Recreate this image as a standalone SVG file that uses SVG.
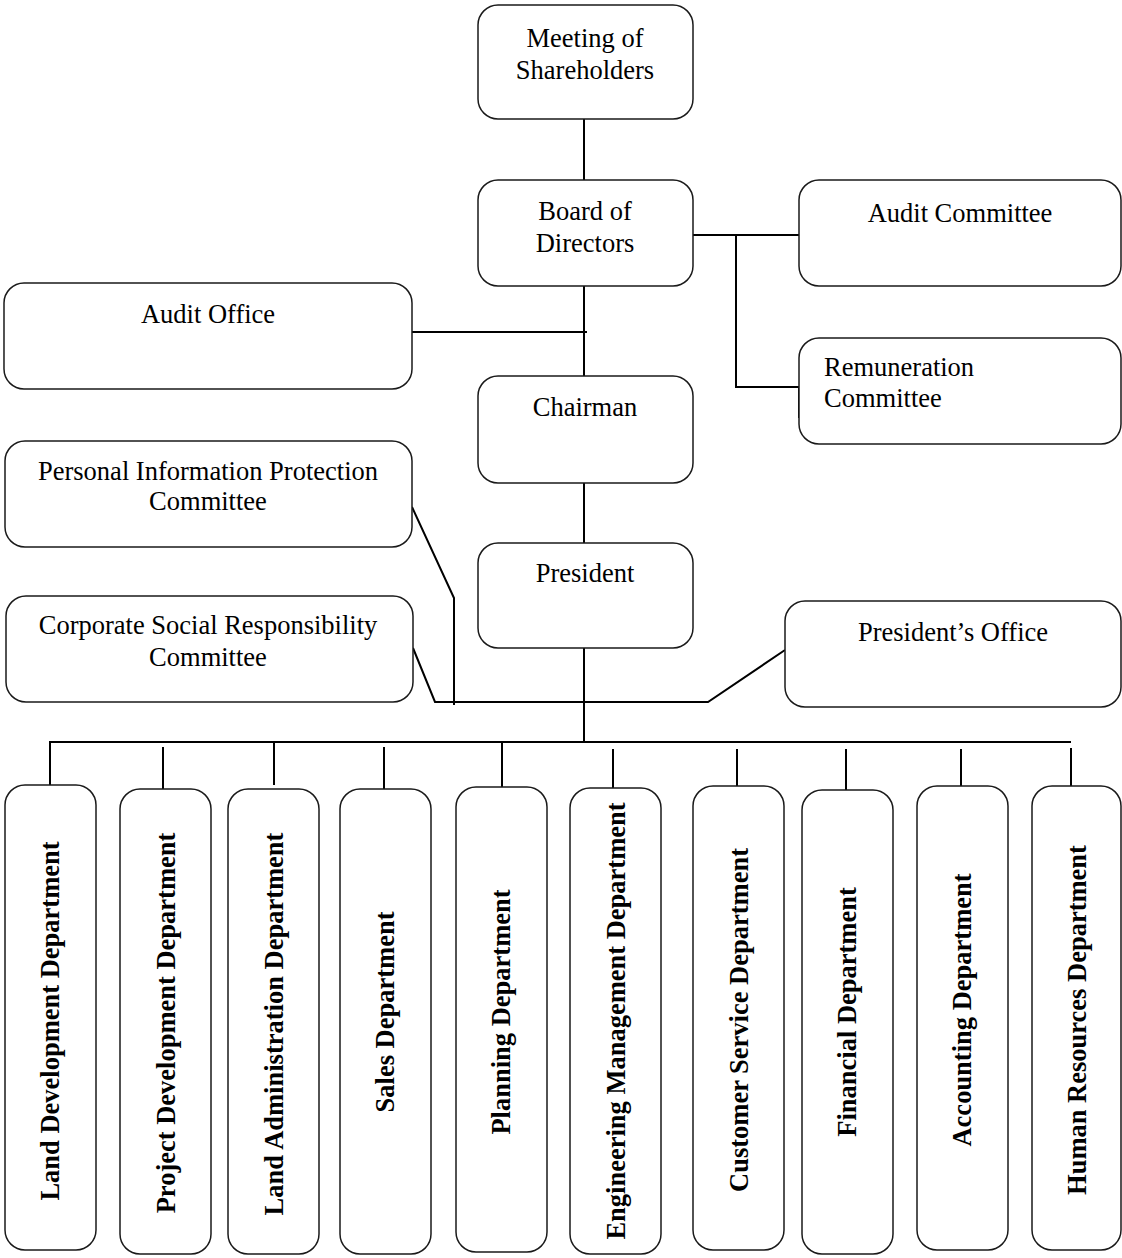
<svg xmlns="http://www.w3.org/2000/svg" width="1122" height="1258" viewBox="0 0 1122 1258">
<style>
.box{fill:#fff;stroke:#1a1a1a;stroke-width:1.5}
.t{font-family:"Liberation Serif","Times New Roman",serif;font-size:26.5px;fill:#000;text-anchor:middle}
.tl{font-family:"Liberation Serif","Times New Roman",serif;font-size:26.5px;fill:#000}
.v{font-family:"Liberation Serif","Times New Roman",serif;font-size:26.5px;font-weight:bold;fill:#000;text-anchor:middle}
.c{fill:none;stroke:#000;stroke-width:2}
</style>
<rect width="1122" height="1258" fill="#fff"/>
<g id="connectors">
<path class="c" d="M584 119V180"/>
<path class="c" d="M584 286V376"/>
<path class="c" d="M412 332H587"/>
<path class="c" d="M693 235H799"/>
<path class="c" d="M736 235V387H799V418"/>
<path class="c" d="M584 483V543"/>
<path class="c" d="M584 648V742"/>
<path class="c" d="M412 507L454 598V705"/>
<path class="c" d="M413 648L435 702H708L785 650"/>
<path class="c" d="M50 785V742H1071"/>
<path class="c" d="M163 747V789"/>
<path class="c" d="M274 742V785"/>
<path class="c" d="M384 747V789"/>
<path class="c" d="M502 742V787"/>
<path class="c" d="M613 749V788"/>
<path class="c" d="M737 749V790"/>
<path class="c" d="M846 749V790"/>
<path class="c" d="M961 749V790"/>
<path class="c" d="M1071 748V790"/>
</g>
<g id="meeting"><rect class="box" x="478" y="5" width="215" height="114" rx="20"/><text class="t" x="585" y="47">Meeting of</text><text class="t" x="585" y="79">Shareholders</text></g>
<g id="board"><rect class="box" x="478" y="180" width="215" height="106" rx="20"/><text class="t" x="585" y="220">Board of</text><text class="t" x="585" y="252">Directors</text></g>
<g id="audit-committee"><rect class="box" x="799" y="180" width="322" height="106" rx="20"/><text class="t" x="960" y="222">Audit Committee</text></g>
<g id="remuneration"><rect class="box" x="799" y="338" width="322" height="106" rx="20"/><text class="tl" x="824" y="376">Remuneration</text><text class="tl" x="824" y="407">Committee</text></g>
<g id="audit-office"><rect class="box" x="4" y="283" width="408" height="106" rx="20"/><text class="t" x="208" y="323">Audit Office</text></g>
<g id="chairman"><rect class="box" x="478" y="376" width="215" height="107" rx="20"/><text class="t" x="585" y="416">Chairman</text></g>
<g id="pip"><rect class="box" x="5" y="441" width="407" height="106" rx="20"/><text class="t" x="208" y="480">Personal Information Protection</text><text class="t" x="208" y="510">Committee</text></g>
<g id="president"><rect class="box" x="478" y="543" width="215" height="105" rx="20"/><text class="t" x="585" y="582">President</text></g>
<g id="csr"><rect class="box" x="6" y="596" width="407" height="106" rx="20"/><text class="t" x="208" y="634">Corporate Social Responsibility</text><text class="t" x="208" y="666">Committee</text></g>
<g id="presidents-office"><rect class="box" x="785" y="601" width="336" height="106" rx="20"/><text class="t" x="953" y="641">President’s Office</text></g>
<g id="d1"><rect class="box" x="5" y="785" width="91" height="465" rx="20"/><text class="v" transform="translate(59 1021) rotate(-90)">Land Development Department</text></g>
<g id="d2"><rect class="box" x="120" y="789" width="91" height="465" rx="20"/><text class="v" transform="translate(175 1023) rotate(-90)">Project Development Department</text></g>
<g id="d3"><rect class="box" x="228" y="789" width="91" height="465" rx="20"/><text class="v" transform="translate(283 1024) rotate(-90)">Land Administration Department</text></g>
<g id="d4"><rect class="box" x="340" y="789" width="91" height="465" rx="20"/><text class="v" transform="translate(394 1012) rotate(-90)">Sales Department</text></g>
<g id="d5"><rect class="box" x="456" y="787" width="91" height="465" rx="20"/><text class="v" transform="translate(510 1012) rotate(-90)">Planning Department</text></g>
<g id="d6"><rect class="box" x="570" y="788" width="91" height="466" rx="20"/><text class="v" transform="translate(625 1021) rotate(-90)">Engineering Management Department</text></g>
<g id="d7"><rect class="box" x="693" y="786" width="91" height="464" rx="20"/><text class="v" transform="translate(748 1020) rotate(-90)">Customer Service Department</text></g>
<g id="d8"><rect class="box" x="802" y="790" width="91" height="464" rx="20"/><text class="v" transform="translate(856 1012) rotate(-90)">Financial Department</text></g>
<g id="d9"><rect class="box" x="917" y="786" width="91" height="464" rx="20"/><text class="v" transform="translate(971 1010) rotate(-90)">Accounting Department</text></g>
<g id="d10"><rect class="box" x="1032" y="786" width="89" height="464" rx="20"/><text class="v" transform="translate(1086 1020) rotate(-90)">Human Resources Department</text></g>
</svg>
